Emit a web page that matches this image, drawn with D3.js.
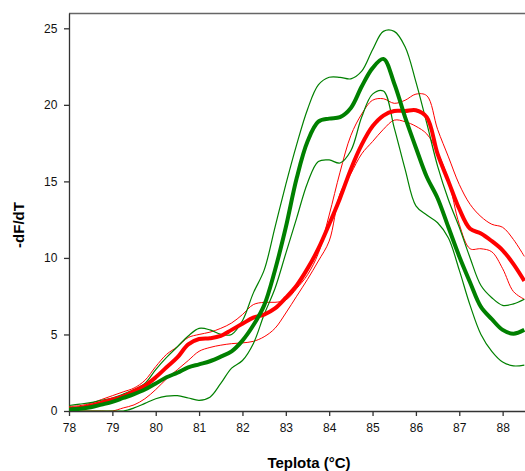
<!DOCTYPE html>
<html>
<head>
<meta charset="utf-8">
<script src="https://cdn.jsdelivr.net/npm/d3@7"></script>
<style>
	body { margin: 0; background: #fff; }
	#melt { width: 525px; height: 471px; overflow: hidden; }
</style>
</head>
<body>
<div id="melt"></div>
<script>
// Temperatures (°C), step 0.25
var teplota = d3.range(78, 88.51, 0.25);

// Green group: mean (thick) and the two bounds (thin)
var zelenaPrumer = [0.1, 0.15, 0.25, 0.42, 0.6, 0.85, 1.1, 1.4, 1.8, 2.2, 2.5, 2.85, 3.05, 3.25, 3.55, 3.9, 4.6, 5.6, 6.9, 9.2, 12.0, 15.2, 17.6, 18.9, 19.1, 19.2, 19.8, 21.2, 22.4, 23.0, 21.4, 19.2, 17.2, 15.3, 13.9, 12.0, 10.1, 8.4, 6.8, 6.0, 5.3, 5.05, 5.3];
var zelenaHorni = [0.36, 0.45, 0.55, 0.7, 0.85, 1.1, 1.4, 1.8, 2.7, 3.5, 4.2, 4.9, 5.4, 5.3, 5.0, 5.0, 5.9, 7.7, 9.2, 12.0, 14.8, 17.4, 19.7, 21.3, 21.8, 21.8, 21.7, 22.2, 23.6, 24.8, 24.8, 23.8, 21.5, 18.8, 16.0, 13.8, 12.0, 10.0, 8.2, 7.4, 6.9, 7.0, 7.3];
var zelenaDolni = [0, 0, 0, 0, 0, 0, 0.2, 0.5, 0.8, 0.97, 1.0, 0.85, 0.7, 0.9, 1.8, 2.8, 3.3, 4.4, 6.3, 8.0, 10.3, 12.6, 14.9, 16.3, 16.4, 16.2, 17.0, 19.2, 20.7, 20.9, 18.5, 15.8, 13.4, 12.8, 12.3, 11.3, 9.2, 6.9, 5.0, 3.9, 3.2, 2.95, 3.0];

// Red group: mean (thick) and the two bounds (thin)
var cervenaPrumer = [0.15, 0.2, 0.35, 0.55, 0.75, 0.95, 1.3, 1.65, 2.2, 2.86, 3.5, 4.35, 4.7, 4.75, 4.9, 5.3, 5.7, 6.1, 6.3, 6.7, 7.4, 8.2, 9.3, 10.6, 12.2, 13.9, 15.8, 17.4, 18.6, 19.3, 19.6, 19.6, 19.65, 19.2, 16.8, 15.0, 13.2, 11.9, 11.6, 11.1, 10.5, 9.6, 8.5];
var cervenaHorni = [0.3, 0.35, 0.5, 0.75, 1.0, 1.25, 1.5, 2.0, 2.9, 3.7, 4.2, 4.8, 5.0, 5.15, 5.4, 5.75, 6.3, 6.95, 7.1, 7.1, 7.25, 8.0, 8.9, 10.3, 12.8, 15.6, 18.0, 19.4, 20.3, 20.4, 20.1, 20.3, 20.7, 20.6, 18.4, 16.6, 14.8, 13.5, 12.7, 12.2, 12.0, 11.2, 10.1];
var cervenaDolni = [0, 0, 0, 0, 0, 0.2, 0.4, 0.8, 1.4, 2.1, 2.7, 3.3, 3.9, 4.15, 4.3, 4.4, 4.45, 4.55, 4.85, 5.4, 6.4, 7.5, 8.6, 9.8, 11.1, 14.2, 15.5, 16.8, 17.6, 18.4, 19.0, 18.9, 18.6, 18.1, 16.9, 15.1, 12.2, 10.6, 10.6, 10.4, 9.3, 7.8, 7.3];

var xTicks = [78, 79, 80, 81, 82, 83, 84, 85, 86, 87, 88];
var yTicks = [0, 5, 10, 15, 20, 25];

// Margins: the plot runs past the right edge of the window
var margin = {top: 13, right: -21, bottom: 60, left: 69},
	width = 525 - margin.left - margin.right,
	height = 471 - margin.top - margin.bottom;

var svg = d3.select("#melt")
	.append("svg")
		.attr("width", 525)
		.attr("height", 471)
		.style("font-family", "'Liberation Sans', Arial, sans-serif");

// Title, almost entirely above the window (only descenders peek in)
svg.append("text")
	.attr("x", 98)
	.attr("y", -2.8)
	.attr("text-anchor", "start")
	.style("font", "italic bold 16px 'Liberation Sans', Arial")
	.text("Křivky tání u vzorků typu A a B – srovnání obou průběhů");

var g = svg.append("g")
	.attr("transform", "translate(" + margin.left + "," + margin.top + ")");

var xScale = d3.scaleLinear()
	.domain([78, 89])
	.range([0, width]);
var yScale = d3.scaleLinear()
	.domain([0, 26])
	.range([height, 0]);

// Top frame line
g.append("line")
	.attr("x1", 0).attr("x2", width)
	.attr("y1", 0.5).attr("y2", 0.5)
	.attr("stroke", "#666")
	.attr("stroke-width", 1.5);

// Axes
var xAxis = d3.axisBottom(xScale).tickValues(xTicks).tickSize(5).tickSizeOuter(0);
var yAxis = d3.axisLeft(yScale).tickValues(yTicks).tickSize(5).tickSizeOuter(0);

g.append("g")
	.attr("class", "x axis")
	.attr("transform", "translate(0," + height + ")")
	.call(xAxis);
g.append("g")
	.attr("class", "y axis")
	.call(yAxis);

g.selectAll(".axis path, .axis line")
	.attr("stroke", "#333")
	.attr("stroke-width", 1.3);
g.selectAll(".axis text")
	.style("font-size", "12px")
	.attr("fill", "#111");
g.selectAll(".x.axis text").attr("dy", "1.05em");
g.selectAll(".y.axis text").attr("dx", "-0.3em");

// Axis labels
svg.append("text")
	.attr("x", 309)
	.attr("y", 468)
	.attr("text-anchor", "middle")
	.style("font", "bold 15px 'Liberation Sans', Arial")
	.text("Teplota (°C)");
svg.append("g")
	.attr("transform", "translate(24,225)")
	.append("text")
		.attr("transform", "rotate(-90)")
		.attr("text-anchor", "middle")
		.style("font", "bold 15px 'Liberation Sans', Arial")
		.text("-dF/dT");

// Curves
var clip = g.append("clipPath").attr("id", "plotclip")
	.append("rect")
		.attr("x", 0).attr("y", -2)
		.attr("width", width).attr("height", height + 2);

var line = d3.line()
	.x((d, i) => xScale(teplota[i]))
	.y(d => yScale(d))
	.curve(d3.curveCatmullRom.alpha(0.5));

var krivky = [
	{values: cervenaHorni, color: "#ff0000", w: 1},
	{values: cervenaDolni, color: "#ff0000", w: 1},
	{values: zelenaHorni, color: "#008000", w: 1.2},
	{values: zelenaDolni, color: "#008000", w: 1.2},
	{values: cervenaPrumer, color: "#ff0000", w: 4},
	{values: zelenaPrumer, color: "#008000", w: 4}
];

g.append("g")
	.attr("clip-path", "url(#plotclip)")
	.selectAll("path")
	.data(krivky)
	.enter().append("path")
		.attr("d", d => line(d.values))
		.attr("fill", "none")
		.attr("stroke", d => d.color)
		.attr("stroke-width", d => d.w)
		.attr("stroke-linejoin", "round");
</script>
</body>
</html>
